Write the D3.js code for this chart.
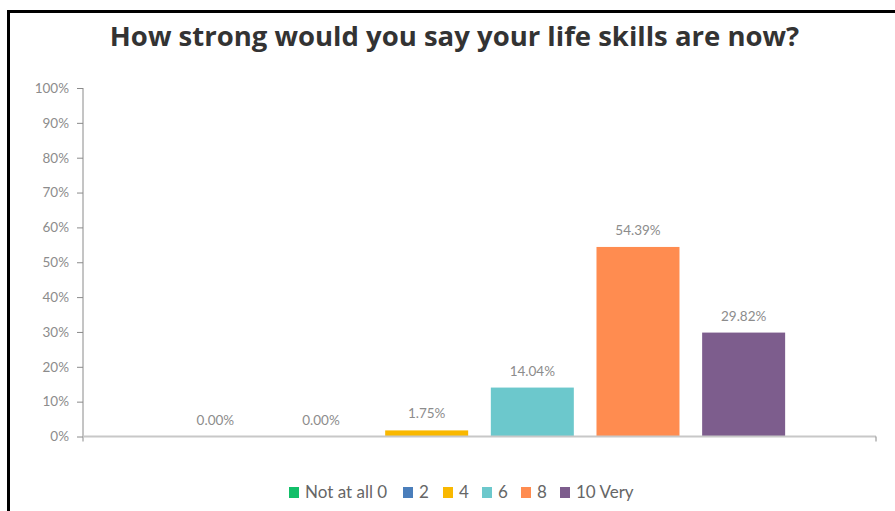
<!DOCTYPE html>
<html>
<head>
<meta charset="utf-8">
<script src="https://cdn.jsdelivr.net/npm/d3@7"></script>
<style>
  html, body { margin: 0; padding: 0; background: #fff; }
  svg { display: block; }
</style>
</head>
<body>
<svg id="chart" width="895" height="511"></svg>
<script>
// Survey responses: share of respondents per rating
const series = ["Not at all 0", "2", "4", "6", "8", "10 Very"];
const values = [0.0, 0.0, 1.75, 14.04, 54.39, 29.82];
const colors = ["#12bf69", "#4a7ebb", "#f9b800", "#6cc8cc", "#ff8c50", "#7d5d8d"];
const yTicks = [0, 10, 20, 30, 40, 50, 60, 70, 80, 90, 100];
const title = "How strong would you say your life skills are now?";

const svg = d3.select("#chart");
const W = 895, H = 511;
const plot = { left: 83, right: 876, top: 88, bottom: 436.5 };

// Frame around the chart area
svg.append("rect").attr("x", 0).attr("y", 0).attr("width", W).attr("height", H).attr("fill", "#fff");
svg.append("line").attr("x1", 8.5).attr("x2", 8.5).attr("y1", 10).attr("y2", H)
  .attr("stroke", "#000").attr("stroke-width", 3);
svg.append("line").attr("x1", 7).attr("x2", W).attr("y1", 11.5).attr("y2", 11.5)
  .attr("stroke", "#000").attr("stroke-width", 3);

// Title
svg.append("text")
  .attr("x", 454.5).attr("y", 45.5)
  .attr("text-anchor", "middle")
  .attr("font-family", "'Open Sans', sans-serif")
  .attr("font-weight", 700)
  .attr("font-size", 27.5)
  .attr("fill", "#333")
  .text(title);

// Scales
const y = d3.scaleLinear().domain([0, 100]).range([plot.bottom, plot.top]);
const x = d3.scaleBand().domain(series).range([plot.left, plot.right])
  .paddingInner(0.2145).paddingOuter(0.86);

// Y axis
const yAxis = d3.axisLeft(y).tickValues(yTicks).tickFormat(d => d + "%").tickSize(6).tickPadding(8);
const gy = svg.append("g").attr("transform", `translate(${plot.left},0)`).call(yAxis);
gy.select(".domain").attr("stroke", "#8a8a8a").attr("d", `M0,${plot.top}V${plot.bottom + 5}`);
gy.selectAll(".tick line").attr("stroke", "#8a8a8a");
gy.selectAll(".tick text")
  .attr("fill", "#8c8c8c")
  .attr("font-family", "Lato, 'Open Sans', sans-serif")
  .attr("font-size", 13.5);

// Bars
svg.append("g").selectAll("rect")
  .data(values)
  .join("rect")
  .attr("x", (d, i) => x(series[i]))
  .attr("width", x.bandwidth())
  .attr("y", d => y(d))
  .attr("height", d => y(0) - y(d))
  .attr("fill", (d, i) => colors[i]);

// X axis baseline with end tick
svg.append("line")
  .attr("x1", plot.left).attr("x2", plot.right)
  .attr("y1", y(0)).attr("y2", y(0))
  .attr("stroke", "#c8c8c8").attr("stroke-width", 2);
svg.append("line")
  .attr("x1", plot.right).attr("x2", plot.right)
  .attr("y1", y(0)).attr("y2", y(0) + 5)
  .attr("stroke", "#8a8a8a").attr("stroke-width", 1);

// Value labels
svg.append("g").selectAll("text")
  .data(values)
  .join("text")
  .attr("x", (d, i) => x(series[i]) + x.bandwidth() / 2)
  .attr("y", d => y(d) - 12)
  .attr("text-anchor", "middle")
  .attr("font-family", "Lato, 'Open Sans', sans-serif")
  .attr("font-size", 13.5)
  .attr("fill", "#8c8c8c")
  .text(d => d.toFixed(2) + "%");

// Legend
const legendX = [289, 403, 443, 482, 521, 560];
const lg = svg.append("g").selectAll("g")
  .data(series)
  .join("g")
  .attr("transform", (d, i) => `translate(${legendX[i]},487)`);
lg.append("rect").attr("width", 10).attr("height", 11).attr("y", 0)
  .attr("fill", (d, i) => colors[i]);
lg.append("text")
  .attr("x", 16).attr("y", 11)
  .attr("font-family", "Lato, 'Open Sans', sans-serif")
  .attr("font-size", 17)
  .attr("fill", "#666")
  .text(d => d);
</script>
</body>
</html>
